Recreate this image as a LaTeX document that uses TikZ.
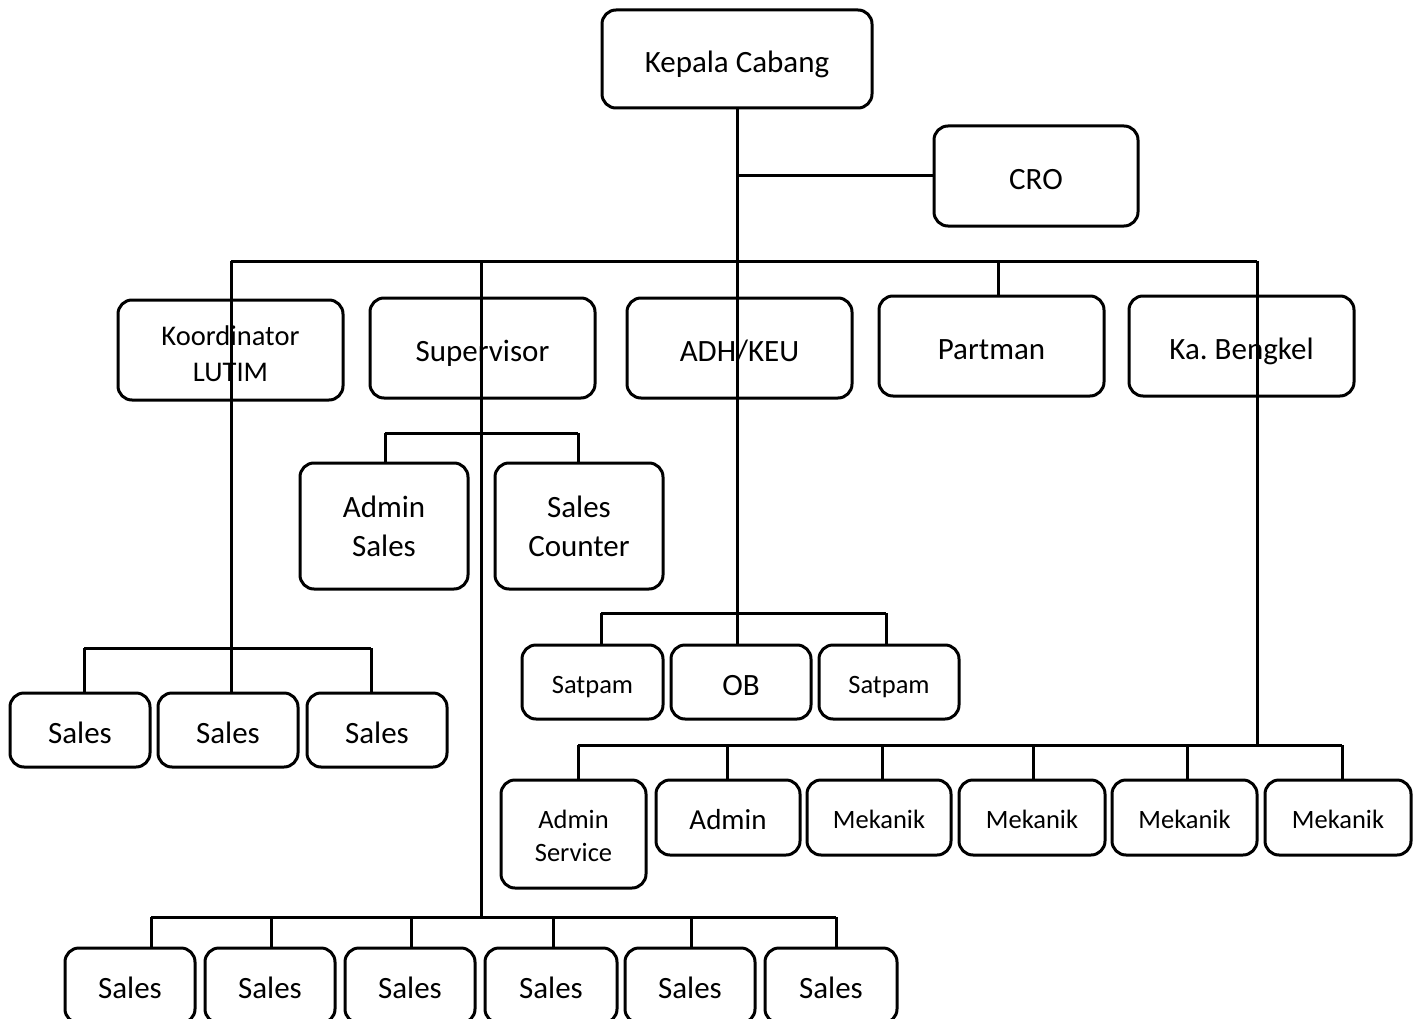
\documentclass[tikz,border=0pt]{standalone}
\usepackage{fontspec}
\setmainfont{Carlito}
\frenchspacing
\begin{document}
\begin{tikzpicture}[x=1pt,y=-1pt,
  box/.style={draw, line width=3pt, rounded corners=14pt, inner sep=0pt, align=center},
  fL/.style={font=\fontsize{31}{39}\selectfont, text height=26.4pt, text depth=0pt},
  fM/.style={font=\fontsize{28.5}{36}\selectfont},
  fA/.style={font=\fontsize{29}{36}\selectfont, text height=24.6pt, text depth=0pt},
  fS/.style={font=\fontsize{26.5}{33}\selectfont, text height=22.5pt, text depth=0pt},
  fLm/.style={font=\fontsize{31}{39}\selectfont},
  fSm/.style={font=\fontsize{26.5}{33}\selectfont},
  lbl/.style={align=center, inner sep=0pt},
  conn/.style={line width=3pt}]
\useasboundingbox (0,0) rectangle (1421,1019);

% top
\node[box,fL,minimum width=270pt,minimum height=98pt] (kc) at (737,59) {Kepala Cabang};
\node[box,fL,minimum width=204pt,minimum height=100pt] (cro) at (1036,176) {CRO};

% level 1
\node[box,minimum width=225pt,minimum height=100pt] (koord) at (230.5,350) {};
\node[lbl,fM,yshift=-4pt] (koordt) at (koord.center) {Koordinator\\LUTIM};
\node[box,fL,minimum width=225pt,minimum height=100pt] (sup) at (482.5,348) {Supervisor};
\node[box,fL,minimum width=225pt,minimum height=100pt] (adh) at (739.5,348) {ADH/KEU};
\node[box,fL,minimum width=225pt,minimum height=100pt] (part) at (991.5,346) {Partman};
\node[box,fL,minimum width=225pt,minimum height=100pt] (kab) at (1241.5,346) {Ka.\ Bengkel};

% supervisor staff
\node[box,fLm,minimum width=168pt,minimum height=126pt] (as) at (384,526) {Admin\\Sales};
\node[box,fLm,minimum width=168pt,minimum height=126pt] (sc) at (579,526) {Sales\\Counter};

% ADH children
\node[box,fS,minimum width=141pt,minimum height=74pt] (sat1) at (592.5,682) {Satpam};
\node[box,fL,minimum width=140pt,minimum height=74pt] (ob) at (741,682) {OB};
\node[box,fS,minimum width=140pt,minimum height=74pt] (sat2) at (889,682) {Satpam};

% Koordinator children
\node[box,fL,minimum width=140pt,minimum height=74pt] (ks1) at (80,730) {Sales};
\node[box,fL,minimum width=140pt,minimum height=74pt] (ks2) at (228,730) {Sales};
\node[box,fL,minimum width=140pt,minimum height=74pt] (ks3) at (377,730) {Sales};

% Ka. Bengkel children
\node[box,minimum width=145pt,minimum height=108pt] (asv) at (573.5,834) {};
\node[lbl,fSm,yshift=-2pt] (asvt) at (asv.center) {Admin\\Service};
\node[box,fA,minimum width=144pt,minimum height=75pt] (adm) at (728,817.5) {Admin};
\node[box,fS,minimum width=144pt,minimum height=75pt] (m1) at (879,817.5) {Mekanik};
\node[box,fS,minimum width=146pt,minimum height=75pt] (m2) at (1032,817.5) {Mekanik};
\node[box,fS,minimum width=145pt,minimum height=75pt] (m3) at (1184.5,817.5) {Mekanik};
\node[box,fS,minimum width=146pt,minimum height=75pt] (m4) at (1338,817.5) {Mekanik};

% Supervisor sales
\node[box,fL,minimum width=130pt,minimum height=75pt] (bs1) at (130,985.5) {Sales};
\node[box,fL,minimum width=130pt,minimum height=75pt] (bs2) at (270,985.5) {Sales};
\node[box,fL,minimum width=130pt,minimum height=75pt] (bs3) at (410,985.5) {Sales};
\node[box,fL,minimum width=132pt,minimum height=75pt] (bs4) at (551,985.5) {Sales};
\node[box,fL,minimum width=130pt,minimum height=75pt] (bs5) at (690,985.5) {Sales};
\node[box,fL,minimum width=132pt,minimum height=75pt] (bs6) at (831,985.5) {Sales};

% junction coordinates
\coordinate (trunk) at (737,108);
\coordinate (busL) at (231,261);
\coordinate (busS) at (481,261);
\coordinate (busP) at (998,261);
\coordinate (busR) at (1257,261);
\coordinate (s1) at (385,433);
\coordinate (s2) at (578,433);
\coordinate (a1) at (601,613);
\coordinate (a3) at (886,613);
\coordinate (k1) at (84,648);
\coordinate (k3) at (371,648);
\coordinate (b1) at (578,745);
\coordinate (b2) at (727,745);
\coordinate (b3) at (882,745);
\coordinate (b4) at (1033,745);
\coordinate (b5) at (1187,745);
\coordinate (b6) at (1342,745);
\coordinate (v1) at (151,917);
\coordinate (v2) at (271,917);
\coordinate (v3) at (411,917);
\coordinate (v4) at (553,917);
\coordinate (v5) at (691,917);
\coordinate (v6) at (836,917);

% connectors
\draw[conn] (trunk) -- (trunk |- ob.north);
\draw[conn] (trunk |- cro.west) -- (cro.west);
\draw[conn] (busL) -- (busR);
\draw[conn] (busL) -- (busL |- ks2.north);
\draw[conn] (busS) -- (busS |- v1);
\draw[conn] (busP) -- (busP |- part.north);
\draw[conn] (busR) -- (busR |- b1);

\draw[conn] (s1) -- (s2);
\draw[conn] (s1) -- (s1 |- as.north);
\draw[conn] (s2) -- (s2 |- sc.north);

\draw[conn] (a1) -- (a3);
\draw[conn] (a1) -- (a1 |- sat1.north);
\draw[conn] (a3) -- (a3 |- sat2.north);

\draw[conn] (k1) -- (k3);
\draw[conn] (k1) -- (k1 |- ks1.north);
\draw[conn] (k3) -- (k3 |- ks3.north);

\draw[conn] (b1) -- (b6);
\draw[conn] (b1) -- (b1 |- asv.north);
\draw[conn] (b2) -- (b2 |- adm.north);
\draw[conn] (b3) -- (b3 |- m1.north);
\draw[conn] (b4) -- (b4 |- m2.north);
\draw[conn] (b5) -- (b5 |- m3.north);
\draw[conn] (b6) -- (b6 |- m4.north);

\draw[conn] (v1) -- (v6);
\draw[conn] (v1) -- (v1 |- bs1.north);
\draw[conn] (v2) -- (v2 |- bs2.north);
\draw[conn] (v3) -- (v3 |- bs3.north);
\draw[conn] (v4) -- (v4 |- bs4.north);
\draw[conn] (v5) -- (v5 |- bs5.north);
\draw[conn] (v6) -- (v6 |- bs6.north);
\end{tikzpicture}
\end{document}
